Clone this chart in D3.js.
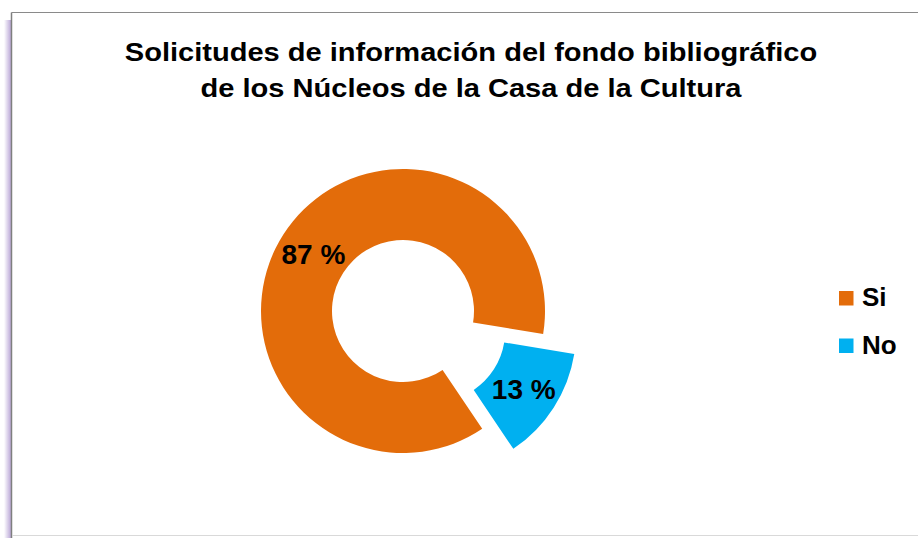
<!DOCTYPE html>
<html>
<head>
<meta charset="utf-8">
<script src="https://cdn.jsdelivr.net/npm/d3@7"></script>
<style>
  body { margin: 0; background: #fff; }
  svg { display: block; font-family: Arial, "Liberation Sans", sans-serif; }
</style>
</head>
<body>
<svg id="chart"></svg>
<script>
// chart data
const categories = ["Si", "No"];
const values = [87, 13];
const labels = ["87 %", "13 %"];
const colors = ["#E36C0A", "#00B0F0"];
const titleLines = ["Solicitudes de información del fondo bibliográfico", "de los Núcleos de la Casa de la Cultura"];

const width = 918, height = 538;
const svg = d3.select("#chart").attr("width", width).attr("height", height);

// purple-ish shadow on the left of the frame
const defs = svg.append("defs");
const grad = defs.append("linearGradient").attr("id", "shadow").attr("x1", "0%").attr("x2", "100%");
grad.append("stop").attr("offset", "0%").attr("stop-color", "#ffffff");
grad.append("stop").attr("offset", "100%").attr("stop-color", "#b9a6d6");
svg.append("rect").attr("x", 4).attr("y", 20).attr("width", 7).attr("height", height - 20)
    .style("fill", "url(#shadow)");

// frame
svg.append("line").attr("x1", 11.5).attr("x2", width).attr("y1", 12.5).attr("y2", 12.5)
    .style("stroke", "#8a8a8a").style("stroke-width", 1);
svg.append("line").attr("x1", 11.5).attr("x2", 11.5).attr("y1", 12.5).attr("y2", height)
    .style("stroke", "#7f7f7f").style("stroke-width", 1.5);
svg.append("line").attr("x1", 12).attr("x2", width).attr("y1", 535.5).attr("y2", 535.5)
    .style("stroke", "#d9d9d9").style("stroke-width", 1);

// title (the original is a bit wider than the font, so stretch it)
const titleX = 471;
svg.append("g")
    .attr("transform", `translate(${titleX},0) scale(1.14,1)`)
    .selectAll("text")
    .data(titleLines)
    .join("text")
    .attr("x", 0)
    .attr("y", (d, i) => 61.5 + i * 35.5)
    .attr("text-anchor", "middle")
    .style("font-size", "25.5px").style("font-weight", "bold")
    .text(d => d);

// donut
const cx = 403, cy = 311, outerR = 142, innerR = 71, explode = 37;
const startDeg = 146.1;

const pie = d3.pie()
    .sort(null)
    .startAngle(startDeg * Math.PI / 180)
    .endAngle(startDeg * Math.PI / 180 + 2 * Math.PI);
const arc = d3.arc().innerRadius(innerR).outerRadius(outerR);

const arcs = pie(values);
const g = svg.append("g").attr("transform", `translate(${cx},${cy})`);

const slice = g.selectAll("g.slice")
    .data(arcs)
    .join("g")
    .attr("class", "slice")
    .attr("transform", (d, i) => {
        if (i === 0) return null;
        const mid = (d.startAngle + d.endAngle) / 2;
        return `translate(${explode * Math.sin(mid)},${-explode * Math.cos(mid)})`;
    });

slice.append("path")
    .attr("d", arc)
    .style("fill", (d, i) => colors[i]);

slice.append("text")
    .attr("transform", d => `translate(${arc.centroid(d)})`)
    .attr("text-anchor", "middle")
    .attr("dy", "0.36em")
    .style("font-size", "28px").style("font-weight", "bold")
    .style("fill", "#000")
    .text((d, i) => labels[i]);

// legend
const legend = svg.append("g").selectAll("g")
    .data(categories)
    .join("g")
    .attr("transform", (d, i) => `translate(839,${291 + i * 47.5})`);
legend.append("rect")
    .attr("width", 14.5).attr("height", 14.5)
    .style("fill", (d, i) => colors[i]);
legend.append("text")
    .attr("x", 23).attr("y", 15)
    .style("font-size", "26px").style("font-weight", "bold")
    .text(d => d);
</script>
</body>
</html>
